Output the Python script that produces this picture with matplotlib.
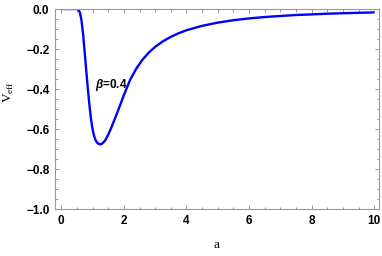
import matplotlib
matplotlib.use("Agg")
import matplotlib.pyplot as plt
from matplotlib.ticker import MultipleLocator

# Data
a_vals = [0.0, 0.3, 0.5, 0.55, 0.6, 0.65, 0.7, 0.75, 0.8, 0.85, 0.9, 0.95, 1.0,
          1.05, 1.1, 1.15, 1.2, 1.25, 1.3, 1.4, 1.5, 1.6, 1.7, 1.8, 1.9, 2.0,
          2.2, 2.4, 2.6, 2.8, 3.0, 3.25, 3.5, 3.75, 4.0, 4.5, 5.0, 5.5, 6.0,
          6.5, 7.0, 7.5, 8.0, 8.5, 9.0, 9.5, 10.0]
veff_vals = [0.0, 0.0, 0.0, -0.003, -0.02, -0.06, -0.13, -0.22, -0.31, -0.40,
             -0.48, -0.55, -0.60, -0.635, -0.656, -0.668, -0.674, -0.676,
             -0.673, -0.657, -0.628, -0.592, -0.553, -0.513, -0.472, -0.43,
             -0.354, -0.297, -0.252, -0.217, -0.189, -0.161, -0.139, -0.121,
             -0.106, -0.084, -0.068, -0.056, -0.047, -0.040, -0.035, -0.030,
             -0.027, -0.0235, -0.021, -0.019, -0.017]
label_text = "=0.4"
label_symbol = r"$\beta$"
x_ticks = [0, 2, 4, 6, 8, 10]
y_ticks = [-1.0, -0.8, -0.6, -0.4, -0.2, 0.0]

plt.rcParams['font.family'] = ['Liberation Sans', 'DejaVu Sans']
plt.rcParams['mathtext.fontset'] = 'custom'
plt.rcParams['mathtext.it'] = 'Liberation Sans:italic:bold'
plt.rcParams['mathtext.bf'] = 'Liberation Sans:italic:bold'

fig = plt.figure(figsize=(3.82, 2.56), dpi=100)
ax = fig.add_axes([55/382, 1-209.3/256, (379-55)/382, (209.3-9)/256])

ax.plot(a_vals, veff_vals, color=(0, 0, 1), lw=1.7, solid_capstyle='butt')
ax.set_xlim(-0.2, 10.15)
ax.set_ylim(-1.0, 0.0)

ax.set_xticks(x_ticks)
ax.set_yticks(y_ticks)
ax.set_xticklabels([str(t) for t in x_ticks])
ax.set_yticklabels([f"{t:.1f}".replace("-", "\u2212") for t in y_ticks])
ax.xaxis.set_minor_locator(MultipleLocator(0.5))
ax.yaxis.set_minor_locator(MultipleLocator(0.05))

frame_col = '#999999'
for s in ax.spines.values():
    s.set_color(frame_col)
    s.set_linewidth(0.8)
ax.tick_params(which='both', direction='in', top=True, right=True,
               color=frame_col, width=0.7)
ax.tick_params(which='major', length=3.2, labelsize=8.5, pad=4)
ax.tick_params(which='minor', length=1.8)
for lab in ax.get_xticklabels() + ax.get_yticklabels():
    lab.set_fontweight('bold')

ax.text(1.09, -0.38, label_symbol + label_text, fontsize=8.5, fontweight='bold',
        va='center', ha='left')

fig.text(9/382, 1-92/256, r"V$_{\mathregular{eff}}$", family='Liberation Serif',
         fontsize=9.5, rotation=90, ha='center', va='center')
fig.text(217/382, 1-245/256, "a", family='Liberation Serif', fontsize=9.5,
         ha='center', va='center')

fig.savefig("out.png", dpi=100)
